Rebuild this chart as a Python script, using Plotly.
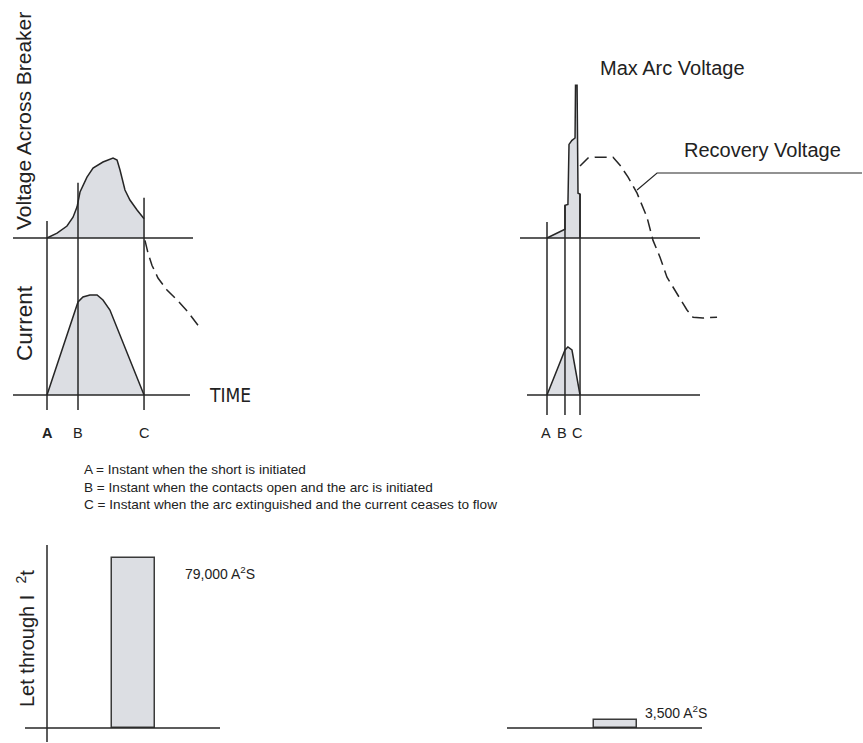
import numpy as np
import plotly.graph_objects as go

# ---------------- data ----------------
event_labels = ["A", "B", "C"]
# event times (common arbitrary time unit for both breakers)
events_standard = [0.0, 2.0, 6.26]
events_limiting = [0.0, 1.16, 2.13]

# Standard breaker - voltage across breaker during arcing (per unit)
std_arc_t = [0.0, 0.65, 1.29, 1.68, 1.94, 2.0, 2.13, 2.58, 2.97, 3.61, 4.26, 4.52, 4.71, 5.03, 5.35, 5.81, 6.26]
std_arc_v = [0.0, 0.06, 0.15, 0.26, 0.39, 0.44, 0.575, 0.76, 0.875, 0.95, 1.0, 0.975, 0.85, 0.60, 0.475, 0.35, 0.24]
# Standard breaker - recovery voltage after C
std_rec_t = [6.32, 6.52, 6.77, 7.16, 7.74, 8.39, 9.1, 9.87]
std_rec_v = [-0.03, -0.19, -0.34, -0.5, -0.65, -0.775, -0.925, -1.125]
# Standard breaker - current
std_cur_t = [0.0, 2.0, 2.32, 2.77, 3.23, 3.61, 4.06, 6.26]
std_cur_i = [0.0, 0.93, 0.98, 1.0, 1.0, 0.95, 0.85, 0.0]

# Current-limiting breaker - arc voltage
lim_arc_t = [0.0, 0.58, 1.16, 1.16, 1.35, 1.42, 1.61, 1.81, 1.84, 1.94, 1.97, 2.0, 2.13, 2.13]
lim_arc_v = [0.0, 0.05, 0.11, 0.41, 0.42, 1.17, 1.22, 1.25, 1.91, 1.91, 1.25, 0.56, 0.55, 0.0]
# Current-limiting breaker - recovery voltage
lim_rec_t = [2.13, 2.65, 3.1, 4.26, 4.71, 5.23, 5.81, 6.45, 6.84, 7.29, 7.74, 8.39, 9.03, 9.42, 10.06, 10.97]
lim_rec_v = [0.9, 1.0, 1.01, 1.01, 0.91, 0.76, 0.56, 0.26, -0.03, -0.24, -0.49, -0.69, -0.9, -0.99, -1.0, -0.99]
# Current-limiting breaker - current
lim_cur_t = [0.0, 0.58, 1.16, 1.35, 1.61, 2.13]
lim_cur_i = [0.0, 0.23, 0.45, 0.48, 0.45, 0.0]

# Let-through I2t
letthrough_cats = ["Standard breaker", "Current-limiting breaker"]
letthrough_vals = [79000, 3500]

legend_lines = [
    "A = Instant when the short is initiated",
    "B = Instant when the contacts open and the arc is initiated",
    "C = Instant when the arc extinguished and the current ceases to flow",
]

# ---------------- geometry / style ----------------
W, H = 863, 743
T_PX = 15.5          # px per time unit
V_PX = 80.0          # px per voltage unit
I_PX = 100.0         # px per current unit
X0_LEFT, X0_RIGHT = 47, 547
V_BASE, I_BASE = 238, 395
TOP_BOTTOM = 420     # bottom pixel of upper area
BAR_C0, BAR_SEP = 133.5, 482.0
BAR_BASE, BAR_TOP_REGION = 728, 530
BAR_PX_PER_UNIT = 170.0 / 79000

LINE = "#262626"
FILL = "#dcdee3"
TXT = "#222222"
FONT = "Liberation Sans, Arial, sans-serif"


def xp(px):
    return px / W


def yp(py):
    return 1 - py / H


fig = go.Figure()

# ---- curves ----
def add_curve(t, v, xa, ya, fill=True, dash=None):
    fig.add_trace(go.Scatter(
        x=t, y=v, mode="lines", xaxis=xa, yaxis=ya,
        fill="tozeroy" if fill else None,
        fillcolor=FILL if fill else None,
        line=dict(color=LINE, width=1.5, dash=dash),
        hoverinfo="skip", showlegend=False))


add_curve(std_arc_t, std_arc_v, "x", "y")
add_curve(std_rec_t, std_rec_v, "x", "y", fill=False, dash="12px,6px")
add_curve(std_cur_t, std_cur_i, "x", "y2")
add_curve(lim_arc_t, lim_arc_v, "x2", "y")
add_curve(lim_rec_t, lim_rec_v, "x2", "y", fill=False, dash="12px,6px")
add_curve(lim_cur_t, lim_cur_i, "x2", "y2")

# ---- bars ----
fig.add_trace(go.Bar(
    x=list(range(len(letthrough_vals))), y=letthrough_vals, width=0.089,
    xaxis="x3", yaxis="y3",
    marker=dict(color=FILL, line=dict(color="#3a3a3a", width=1.5)),
    customdata=letthrough_cats, hovertemplate="%{customdata}: %{y:,}<extra></extra>",
    showlegend=False))

shapes = []


def hline(xref, x0, x1, y, yref="y"):
    shapes.append(dict(type="line", xref=xref, yref=yref, x0=x0, x1=x1, y0=y, y1=y,
                       line=dict(color=LINE, width=1.5)))


def vline(xref, x, y0, y1, yref="y"):
    shapes.append(dict(type="line", xref=xref, yref=yref, x0=x, x1=x, y0=y0, y1=y1,
                       line=dict(color=LINE, width=1.5)))


def v_at(ts, vs, t):
    cand = [v for tt, v in zip(ts, vs) if abs(tt - t) < 1e-9]
    return max(cand) if cand else float(np.interp(t, ts, vs))


# panels: (xref, origin, voltage baseline px extent, current baseline px extent, events, arc data, overshoots, undershoot)
panels = [
    ("x", X0_LEFT, (13, 193), (13, 190), events_standard, std_arc_t, std_arc_v, [17, 20, 21], 15),
    ("x2", X0_RIGHT, (520, 700), (527, 700), events_limiting, lim_arc_t, lim_arc_v, [16, 0, 0], 20),
]
for xref, x0, vext, iext, evs, at, av, over, under in panels:
    hline(xref, (vext[0] - x0) / T_PX, (vext[1] - x0) / T_PX, 0, "y")
    hline(xref, (iext[0] - x0) / T_PX, (iext[1] - x0) / T_PX, 0, "y2")
    for t, o in zip(evs, over):
        top = v_at(at, av, t) + o / V_PX
        bottom = -((I_BASE + under) - V_BASE) / V_PX
        vline(xref, t, bottom, top, "y")

# Recovery voltage leader line
k = 6
lx, ly = lim_rec_t[k], lim_rec_v[k] + 0.04
ex, ey = lx + 20 / T_PX, ly + 17 / V_PX
shapes.append(dict(type="path", xref="x2", yref="y",
                   path=f"M {lx},{ly} L {ex},{ey} L {(W - 1 - X0_RIGHT) / T_PX},{ey}",
                   line=dict(color=LINE, width=1.2)))

# bottom panel axes
for i in range(len(letthrough_vals)):
    hline("x3", i - 108.5 / BAR_SEP, i + 86.5 / BAR_SEP, 0, "y3")
vline("x3", -86.5 / BAR_SEP, -(742 - BAR_BASE) / BAR_PX_PER_UNIT, (BAR_BASE - 545) / BAR_PX_PER_UNIT, "y3")

# ---------------- annotations ----------------
ann = []


def text(x, y, s, size, xanchor="center", angle=0, xref="paper", yref="paper", family=FONT, **kw):
    ann.append(dict(x=x, y=y, xref=xref, yref=yref, text=s, showarrow=False,
                    xanchor=xanchor, yanchor="middle", textangle=angle,
                    font=dict(family=family, size=size, color=TXT), **kw))


text(xp(24), yp(121), "Voltage Across Breaker", 21, angle=-90)
text(xp(24), yp(323), "Current", 22.5, angle=-90)
text(xp(207), yp(395), "TIME", 19, xanchor="left",
     family="DejaVu Sans Condensed, Liberation Sans Narrow, Liberation Sans, sans-serif")
for lab, t in zip(event_labels, events_standard):
    s = f"<b>{lab}</b>" if lab == "A" else lab
    text(t, yp(433), s, 14.5, xref="x")
for lab, t, sh in zip(event_labels, events_limiting, [-1, -3, -3]):
    text(t, yp(433), lab, 14.5, xref="x2", xshift=sh)
text(xp(598), yp(68), "Max Arc Voltage", 20, xanchor="left")
text(xp(682), yp(150), "Recovery Voltage", 20, xanchor="left")
for j, line in enumerate(legend_lines):
    text(xp(82), yp(470 + 17 * j), line, 13.6, xanchor="left")
text(xp(25), yp(639), "Let through I  <sup>2</sup>t", 20, angle=-90)

label_shift = [(49.5, -15), (27.5, 8)]
for i, (v, (dx, dy)) in enumerate(zip(letthrough_vals, label_shift)):
    text(i, v, f"{v:,} A<sup>2</sup>S", 14, xanchor="left", xref="x3", yref="y3",
         xshift=dx, yshift=dy)

fig.update_layout(
    width=W, height=H, margin=dict(l=0, r=0, t=0, b=0),
    paper_bgcolor="white", plot_bgcolor="rgba(0,0,0,0)",
    showlegend=False, shapes=shapes, annotations=ann,
    xaxis=dict(domain=[0, 1], range=[-X0_LEFT / T_PX, (W - X0_LEFT) / T_PX], visible=False, anchor="y"),
    xaxis2=dict(domain=[0, 1], range=[-X0_RIGHT / T_PX, (W - X0_RIGHT) / T_PX], visible=False,
                anchor="y", overlaying="x"),
    yaxis=dict(domain=[yp(TOP_BOTTOM), 1], range=[-(TOP_BOTTOM - V_BASE) / V_PX, V_BASE / V_PX],
               visible=False, anchor="x"),
    yaxis2=dict(domain=[yp(TOP_BOTTOM), 1], range=[-(TOP_BOTTOM - I_BASE) / I_PX, I_BASE / I_PX],
                visible=False, anchor="x", overlaying="y"),
    xaxis3=dict(domain=[0, 1], range=[-BAR_C0 / BAR_SEP, (W - BAR_C0) / BAR_SEP], visible=False, anchor="y3"),
    yaxis3=dict(domain=[0, yp(BAR_TOP_REGION)],
                range=[-(H - BAR_BASE) / BAR_PX_PER_UNIT, (BAR_BASE - BAR_TOP_REGION) / BAR_PX_PER_UNIT],
                visible=False, anchor="x3"),
    bargap=0,
)

fig.write_html("out.html", config={"displayModeBar": False},
               post_script="document.body.style.margin='0px';")
